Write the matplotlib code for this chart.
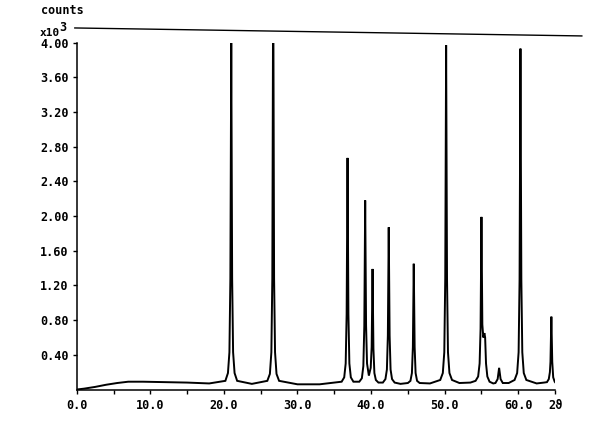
import matplotlib
matplotlib.use("Agg")
import matplotlib.pyplot as plt

# diffractogram trace: 2-theta (deg) and counts (x10^3)
# baseline before the first reflection
base_theta = [0.0, 1.0, 2.5, 4.0, 5.5, 7.0, 9.0, 12.0, 15.0, 18.0]
base_counts = [0.0, 0.01, 0.03, 0.055, 0.075, 0.09, 0.09, 0.085, 0.08, 0.07]

# reflections, each traced as foot -> apex -> foot
peak_theta = [
    20.2, 20.55, 20.75, 20.88, 21.0, 21.12, 21.25, 21.45, 21.8,
    23.8,
    25.9, 26.25, 26.45, 26.58, 26.67, 26.73, 26.82, 26.95, 27.15, 27.5,
    30.0, 33.0,
    36.0, 36.35, 36.55, 36.68, 36.8, 36.92, 37.05, 37.25, 37.6,
    38.4, 38.75, 38.95, 39.08, 39.2, 39.32, 39.45, 39.7,
    39.95, 40.08, 40.2, 40.32, 40.45, 40.65, 41.0,
    41.6, 41.95, 42.15, 42.28, 42.4, 42.52, 42.65, 42.85, 43.2,
    44.0,
    45.0, 45.35, 45.55, 45.68, 45.8, 45.92, 46.05, 46.25, 46.6,
    48.0,
    49.4, 49.75, 49.95, 50.08, 50.2, 50.32, 50.45, 50.65, 51.0,
    52.0, 53.5,
    54.2, 54.55, 54.75, 54.88, 55.0, 55.12, 55.25, 55.4, 55.5, 55.62, 55.8, 56.1,
    56.6,
    56.9, 57.2, 57.4, 57.6, 57.9,
    58.7,
    59.5, 59.85, 60.05, 60.18, 60.3, 60.42, 60.55, 60.75, 61.1,
    62.5, 63.5,
    63.9, 64.15, 64.3, 64.38, 64.5, 64.62, 64.75, 64.95, 65.0,
]
peak_counts = [
    0.10, 0.19, 0.43, 1.28, 4.0, 1.28, 0.43, 0.19, 0.10,
    0.065,
    0.10, 0.18, 0.43, 1.28, 4.0, 4.0, 1.28, 0.43, 0.18, 0.10,
    0.06, 0.06,
    0.09, 0.14, 0.30, 0.87, 2.67, 0.87, 0.30, 0.14, 0.09,
    0.09, 0.13, 0.27, 0.73, 2.18, 0.74, 0.30, 0.16,
    0.25, 0.49, 1.39, 0.47, 0.19, 0.11, 0.08,
    0.08, 0.12, 0.23, 0.62, 1.87, 0.62, 0.23, 0.12, 0.08,
    0.065,
    0.075, 0.10, 0.19, 0.49, 1.45, 0.49, 0.19, 0.10, 0.075,
    0.07,
    0.11, 0.19, 0.43, 1.28, 3.97, 1.28, 0.43, 0.19, 0.11,
    0.075, 0.08,
    0.10, 0.15, 0.30, 0.70, 1.99, 0.75, 0.60, 0.65, 0.60, 0.30, 0.15, 0.09,
    0.07,
    0.075, 0.12, 0.25, 0.12, 0.075,
    0.075,
    0.11, 0.19, 0.43, 1.27, 3.93, 1.27, 0.43, 0.19, 0.11,
    0.07, 0.08,
    0.085, 0.12, 0.20, 0.32, 0.84, 0.32, 0.14, 0.09, 0.085,
]

two_theta = base_theta + peak_theta
counts = base_counts + peak_counts

x_ticks = [0, 5, 10, 15, 20, 25, 30, 35, 40, 45, 50, 55, 60, 65]
x_labels = ["0.0", "", "10.0", "", "20.0", "", "30.0", "", "40.0", "", "50.0", "", "60.0", "2\u03d1"]
y_ticks = [0.4, 0.8, 1.2, 1.6, 2.0, 2.4, 2.8, 3.2, 3.6, 4.0]
y_labels = ["%.2f" % v for v in y_ticks]

mono = ["DejaVu Sans Mono", "DejaVu Sans"]

fig = plt.figure(figsize=(6.07, 4.34), dpi=100)
ax = fig.add_axes([0.1264, 0.1025, 0.788, 0.7995])

ax.plot(two_theta, counts, color="black", lw=1.4, solid_joinstyle="miter")

ax.set_xlim(0, 65)
ax.set_ylim(0, 4.0)
ax.spines["top"].set_visible(False)
ax.spines["right"].set_visible(False)
ax.spines["left"].set_linewidth(1.1)
ax.spines["bottom"].set_linewidth(1.1)

ax.set_xticks(x_ticks)
ax.set_xticklabels(x_labels, family=mono, fontsize=8.5, fontweight="bold")
ax.set_yticks(y_ticks)
ax.set_yticklabels(y_labels, family=mono, fontsize=8.5, fontweight="bold")
ax.tick_params(axis="x", direction="out", length=3, width=1, pad=4)
ax.tick_params(axis="y", direction="out", length=3, width=1, pad=3)

# pen line across the top of the chart paper
ax.plot([-0.004, 1.056], [1.042, 1.019], transform=ax.transAxes,
        color="black", lw=1.0, clip_on=False)

fig.text(0.0675, 0.975, "counts", family=mono, fontsize=8.5,
         fontweight="bold", va="center", ha="left")
fig.text(0.066, 0.925, "x10", family=mono, fontsize=8, fontweight="bold",
         va="center", ha="left")
fig.text(0.097, 0.937, "3", family=mono, fontsize=8.5, fontweight="bold",
         va="center", ha="left")

fig.savefig("out.png", dpi=100)
